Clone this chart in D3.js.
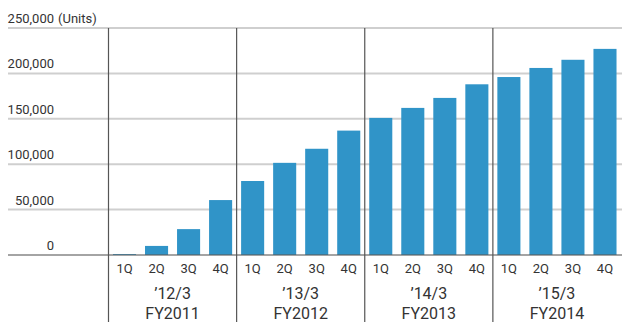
<!DOCTYPE html>
<html>
<head>
<meta charset="utf-8">
<script src="https://cdn.jsdelivr.net/npm/d3@7/dist/d3.min.js"></script>
<style>
  html, body { margin: 0; padding: 0; background: #fff; }
  svg { display: block; }
  text { font-family: Roboto, "Noto Sans", sans-serif; fill: #333; }
</style>
</head>
<body>
<svg id="chart" width="622" height="322"></svg>
<script>
// Quarterly cumulative units, by fiscal year
const quarters = ["1Q", "2Q", "3Q", "4Q"];
const fiscalYears = ["FY2011", "FY2012", "FY2013", "FY2014"];
const yearEnds = ["\u201912/3", "\u201913/3", "\u201914/3", "\u201915/3"];
const fy2011 = [1000, 10000, 28500, 60500];
const fy2012 = [81500, 101500, 117000, 137000];
const fy2013 = [151000, 162000, 173000, 188000];
const fy2014 = [196000, 206000, 215000, 227000];
const yTicks = [0, 50000, 100000, 150000, 200000, 250000];
const unitLabel = "(Units)";

const seriesByYear = [fy2011, fy2012, fy2013, fy2014];
const rows = [];
fiscalYears.forEach((fy, i) => {
  quarters.forEach((q, j) => {
    rows.push({ key: fy + "-" + q, fy, q, value: seriesByYear[i][j] });
  });
});

const svg = d3.select("#chart");
const left = 8, right = 622;

const x = d3.scaleBand()
  .domain(rows.map(d => d.key))
  .range([108.5, 621])
  .paddingInner(0.28)
  .paddingOuter(0.14);

const y = d3.scaleLinear().domain([0, 250000]).range([255, 28]);

// horizontal gridlines
svg.append("g")
  .selectAll("line")
  .data(yTicks.filter(t => t > 0))
  .join("line")
  .attr("x1", left).attr("x2", right)
  .attr("y1", d => y(d)).attr("y2", d => y(d))
  .attr("stroke", "#cfcfcf")
  .attr("stroke-width", 2);

// y tick labels
const fmt = d3.format(",");
svg.append("g")
  .selectAll("text")
  .data(yTicks)
  .join("text")
  .attr("x", 54)
  .attr("y", d => y(d) - 5)
  .attr("text-anchor", "end")
  .attr("font-size", 13)
  .text(d => fmt(d));

svg.append("text")
  .attr("x", 58)
  .attr("y", y(250000) - 5)
  .attr("font-size", 13)
  .text(unitLabel);

// bars
svg.append("g")
  .selectAll("rect")
  .data(rows)
  .join("rect")
  .attr("x", d => x(d.key))
  .attr("width", x.bandwidth())
  .attr("y", d => y(d.value))
  .attr("height", d => y(0) - y(d.value))
  .attr("fill", "#3094c8");

// baseline
svg.append("line")
  .attr("x1", left).attr("x2", right)
  .attr("y1", y(0)).attr("y2", y(0))
  .attr("stroke", "rgba(90,90,90,0.55)")
  .attr("stroke-width", 2);

// fiscal year separators
const gap = x.step() * x.paddingInner() / 2;
svg.append("g")
  .selectAll("line")
  .data(fiscalYears)
  .join("line")
  .attr("x1", fy => x(fy + "-1Q") - gap)
  .attr("x2", fy => x(fy + "-1Q") - gap)
  .attr("y1", y(250000))
  .attr("y2", 322)
  .attr("stroke", "#555")
  .attr("stroke-width", 1.2);

// quarter labels
svg.append("g")
  .selectAll("text")
  .data(rows)
  .join("text")
  .attr("x", d => x(d.key) + x.bandwidth() / 2)
  .attr("y", 273)
  .attr("text-anchor", "middle")
  .attr("font-size", 13)
  .text(d => d.q);

// year labels
const groupCenter = fy => (x(fy + "-1Q") + x(fy + "-4Q") + x.bandwidth()) / 2;
svg.append("g")
  .selectAll("text")
  .data(fiscalYears)
  .join("text")
  .attr("x", fy => groupCenter(fy))
  .attr("y", 299)
  .attr("text-anchor", "middle")
  .attr("font-size", 16)
  .text((fy, i) => yearEnds[i]);

svg.append("g")
  .selectAll("text")
  .data(fiscalYears)
  .join("text")
  .attr("x", fy => groupCenter(fy))
  .attr("y", 319)
  .attr("text-anchor", "middle")
  .attr("font-size", 16)
  .text(fy => fy);
</script>
</body>
</html>
